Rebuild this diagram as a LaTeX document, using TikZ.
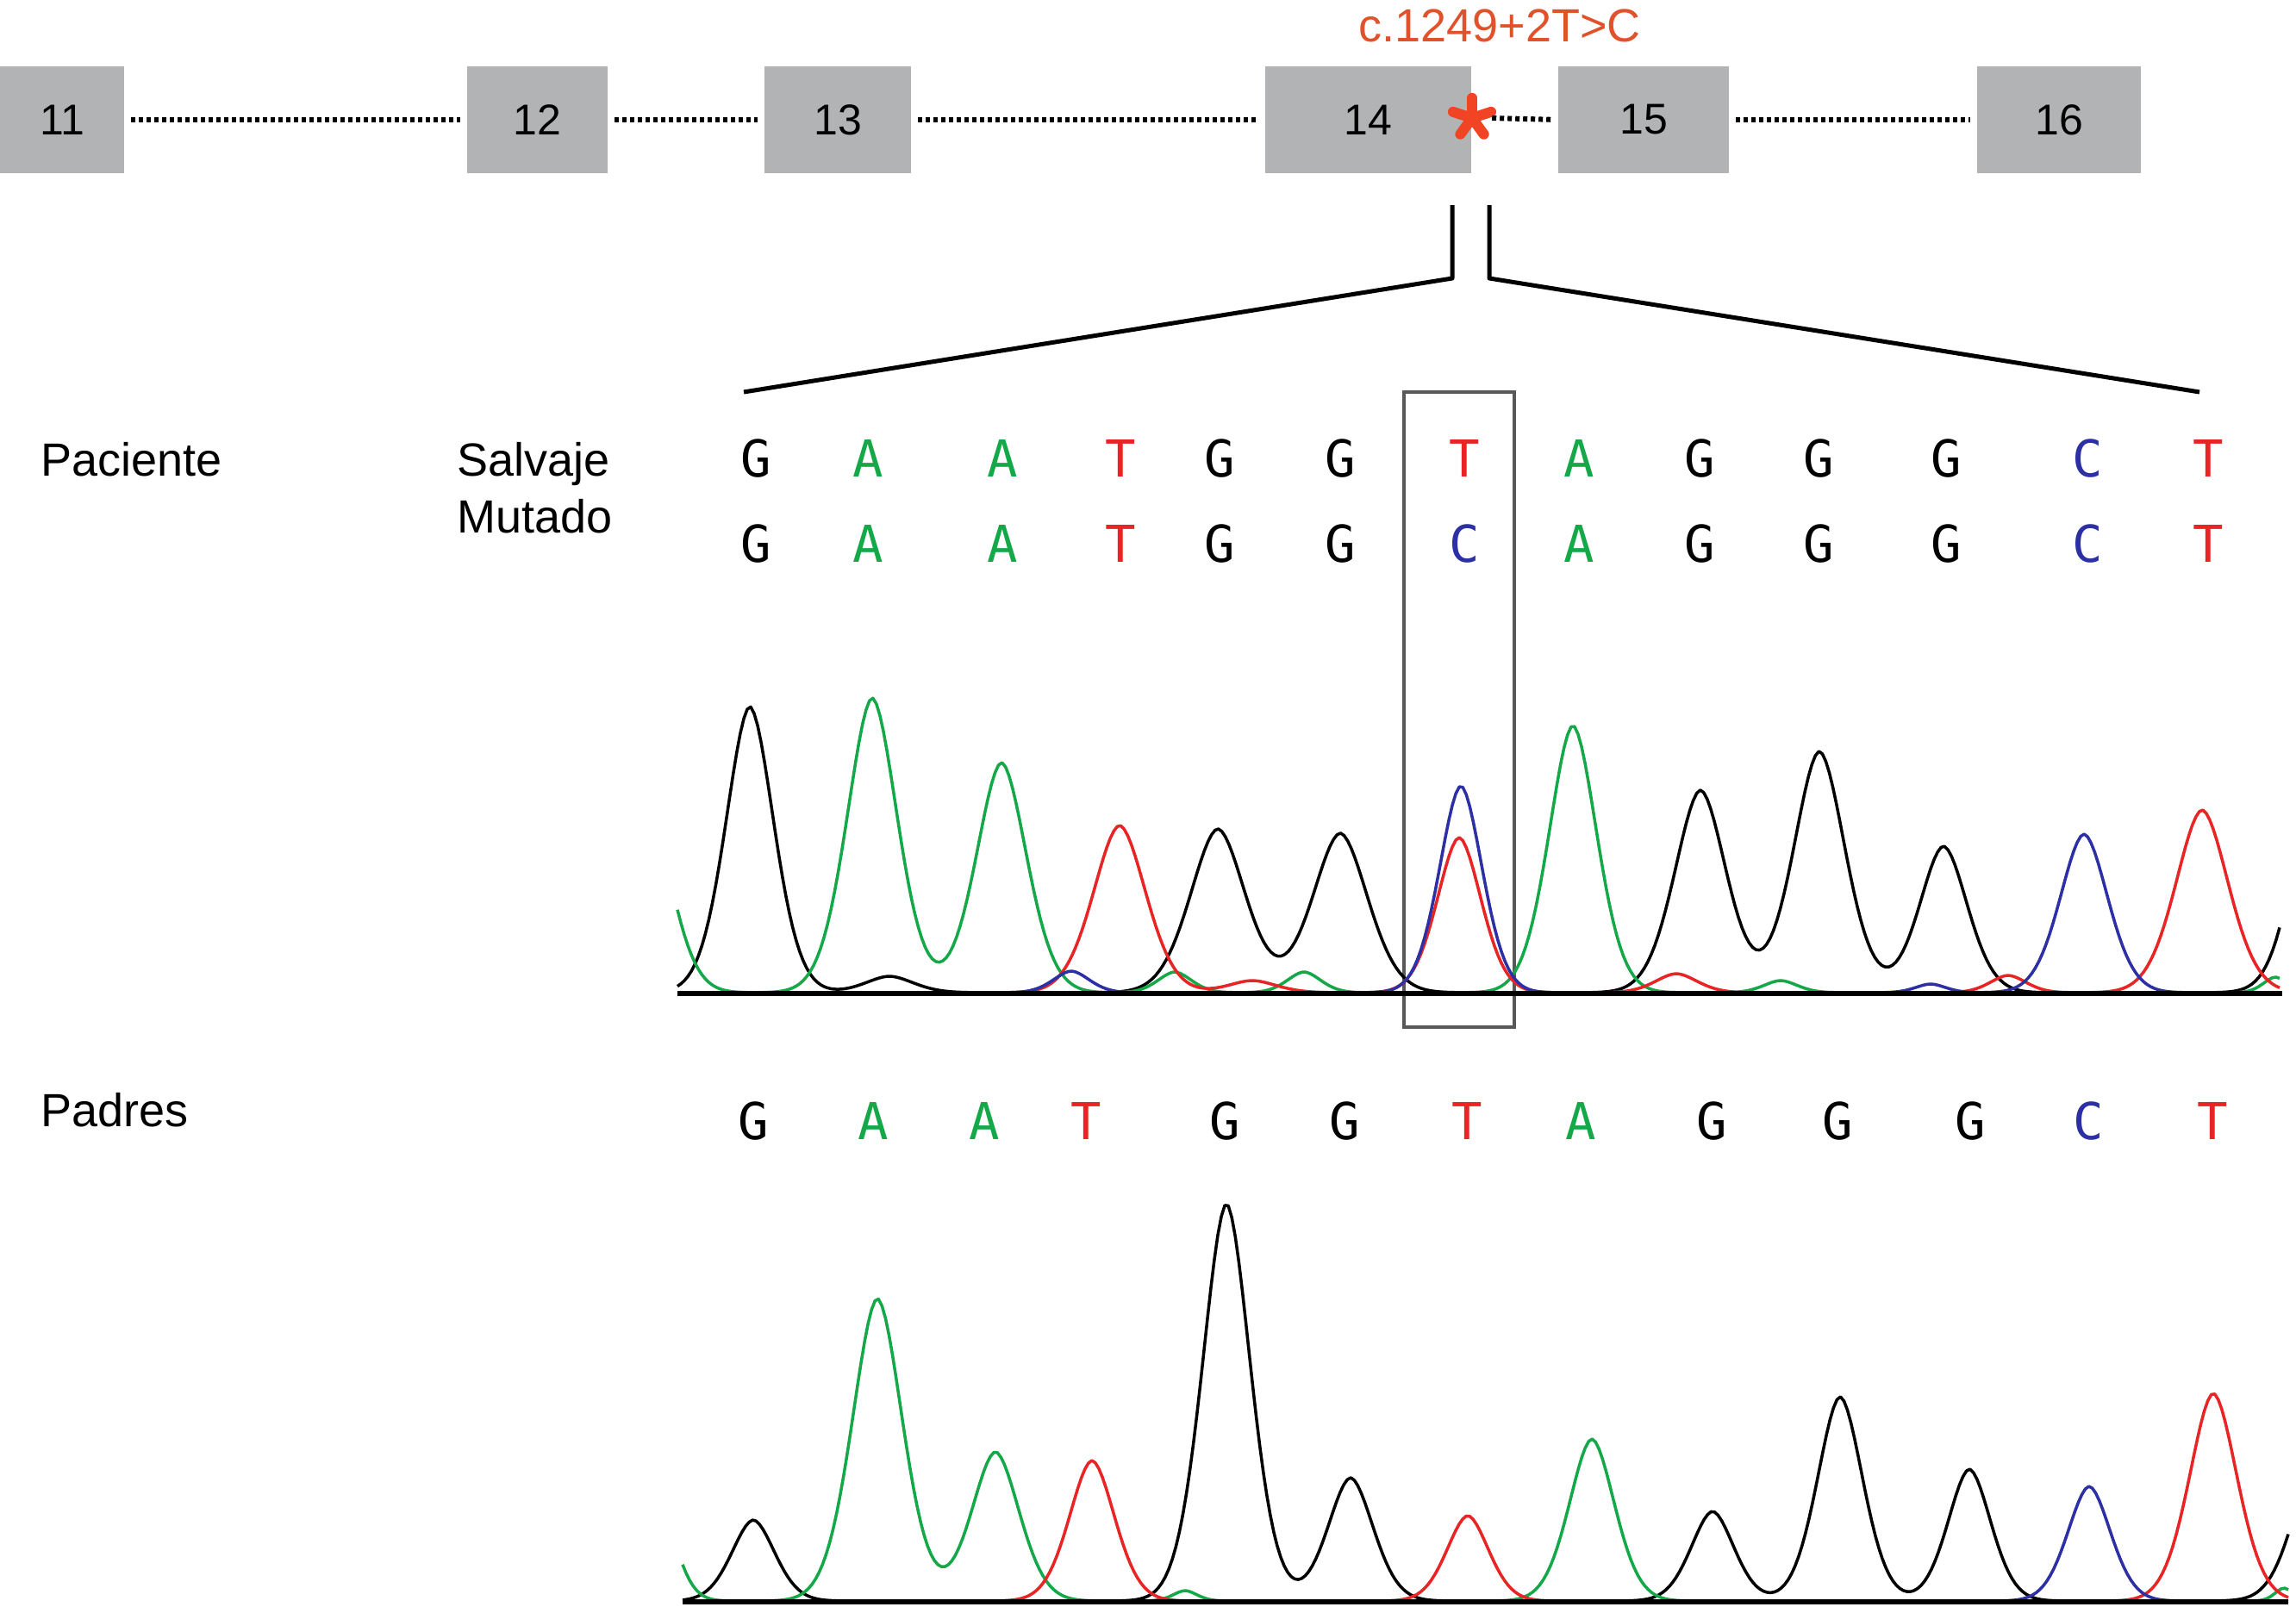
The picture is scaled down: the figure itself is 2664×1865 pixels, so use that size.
\documentclass[tikz,border=0pt]{standalone}
\usepackage{fontspec}
\setmainfont{Liberation Sans}
\newfontfamily\seqfont{DejaVu Sans Mono}
\definecolor{exongray}{RGB}{177,179,180}
\definecolor{mutred}{RGB}{224,82,44}
\definecolor{astred}{RGB}{240,68,36}
\definecolor{trgreen}{RGB}{20,168,72}
\definecolor{trred}{RGB}{232,36,36}
\definecolor{trblue}{RGB}{44,48,164}
\definecolor{frgray}{RGB}{88,88,88}
\begin{document}
\begin{tikzpicture}[x=1pt,y=-1pt,
  declare function={g(\x,\c,\h,\s)=\h*exp(-(min(4,abs((\x-\c)/\s)))^1.8);},
  exon/.style={fill=exongray, inner sep=0pt, minimum height=124pt,
    font=\fontsize{50pt}{56pt}\selectfont},
  intron/.style={line width=6pt, dash pattern=on 5pt off 4pt, shorten >=8pt, shorten <=8pt},
  lab/.style={inner sep=0pt, anchor=base west, font=\fontsize{54pt}{60pt}\selectfont},
  seqlet/.style={inner sep=0pt, anchor=base, font=\seqfont\fontsize{59pt}{64pt}\selectfont},
  trace/.style={line width=3.5pt, line join=round},
  bracket/.style={line width=5pt, line join=round},
  axisline/.style={line width=6pt},
]
\useasboundingbox (0,0) rectangle (2664,1865);

% exons
\node[exon, minimum width=144pt] (e11) at (72,139) {11};
\node[exon, minimum width=163pt] (e12) at (623.5,139) {12};
\node[exon, minimum width=170pt] (e13) at (972,139) {13};
\node[exon, minimum width=239pt] (e14) at (1587.5,139) {14};
\node[exon, minimum width=198pt] (e15) at (1907,139) {15};
\node[exon, minimum width=190pt] (e16) at (2389,139) {16};

% mutation marker
\node[circle, inner sep=0pt, minimum size=46pt] (mut) at (1708,137) {};
\foreach \a in {90,162,234,306,18}
  \draw[astred, line width=12pt, line cap=round] (mut.center) -- (mut.\a);
\node[inner sep=0pt, anchor=base, text=mutred, font=\fontsize{54pt}{60pt}\selectfont]
  (mutlab) at (1740,49) {c.1249+2T>C};

% introns
\draw[intron] (e11.east) -- (e12.west);
\draw[intron] (e12.east) -- (e13.west);
\draw[intron] (e13.east) -- (e14.west);
\draw[intron, shorten <=0pt] (mut.east) -- (e15.west);
\draw[intron] (e15.east) -- (e16.west);

% zoom bracket
\coordinate (bl) at (863,455);
\coordinate (blc) at (1685,323);
\coordinate (blt) at (1685,238);
\coordinate (brt) at (1728,238);
\coordinate (brc) at (1728,323);
\coordinate (br) at (2552,455);
\draw[bracket] (bl) -- (blc) -- (blt);
\draw[bracket] (brt) -- (brc) -- (br);

% labels
\node[lab] (pac) at (47,552) {Paciente};
\node[lab] (sal) at (530,552) {Salvaje};
\node[lab] (mutado) at (530,618) {Mutado};
\node[lab] (pad) at (47,1307) {Padres};

% sequences
\foreach \xx/\b/\c [count=\i] in {877/G/black,1007/A/trgreen,1163/A/trgreen,1300/T/trred,1415/G/black,1555/G/black,1699/T/trred,1832/A/trgreen,1972/G/black,2110/G/black,2258/G/black,2422/C/trblue,2562/T/trred}
  \node[seqlet, text=\c] (s\i) at (\xx,553) {\b};
\foreach \xx/\b/\c [count=\i] in {877/G/black,1007/A/trgreen,1163/A/trgreen,1300/T/trred,1415/G/black,1555/G/black,1699/C/trblue,1832/A/trgreen,1972/G/black,2110/G/black,2258/G/black,2422/C/trblue,2562/T/trred}
  \node[seqlet, text=\c] (m\i) at (\xx,652) {\b};
\foreach \xx/\b/\c [count=\i] in {874/G/black,1013/A/trgreen,1142/A/trgreen,1260/T/trred,1421/G/black,1560/G/black,1702/T/trred,1834/A/trgreen,1986/G/black,2132/G/black,2286/G/black,2423/C/trblue,2567/T/trred}
  \node[seqlet, text=\c] (p\i) at (\xx,1322) {\b};

% highlight frame
\node[draw=frgray, line width=4pt, inner sep=0pt, minimum width=128pt, minimum height=737pt] (hl) at (1693,823.5) {};

% patient chromatogram
\draw[trace, black] plot[domain=786:2645, samples=460] (\x, {1152 - g(\x,870,332,40) - g(\x,1032,19,40) - g(\x,1413,190,46) - g(\x,1555,185,46) - g(\x,1973,235,43) - g(\x,2111,280,43) - g(\x,2255,170,40) - g(\x,2690,260,40)});
\draw[trace, trgreen] plot[domain=786:2645, samples=460] (\x, {1152 - g(\x,750,220,40) - g(\x,1012,342,42) - g(\x,1162,267,42) - g(\x,1363,24,28) - g(\x,1513,24,28) - g(\x,1825,310,40) - g(\x,2066,14,28) - g(\x,2640,18,20)});
\draw[trace, trred] plot[domain=786:2645, samples=460] (\x, {1152 - g(\x,1299,194,44) - g(\x,1453,14,40) - g(\x,1693,180,37) - g(\x,1945,22,35) - g(\x,2330,20,30) - g(\x,2555,212,44)});
\draw[trace, trblue] plot[domain=786:2645, samples=460] (\x, {1152 - g(\x,1243,25,30) - g(\x,1695,240,36) - g(\x,2240,10,25) - g(\x,2418,184,40)});
\draw[axisline] (786,1153) -- (2648,1153);

% parents chromatogram
\draw[trace, black] plot[domain=792:2655, samples=460] (\x, {1858 - g(\x,874,94,36) - g(\x,1423,461,40) - g(\x,1567,143,38) - g(\x,1987,104,36) - g(\x,2135,237,38) - g(\x,2285,153,36) - g(\x,2690,170,40)});
\draw[trace, trgreen] plot[domain=792:2655, samples=460] (\x, {1858 - g(\x,760,130,30) - g(\x,1018,351,42) - g(\x,1155,173,40) - g(\x,1375,12,20) - g(\x,1847,188,38) - g(\x,2650,15,15)});
\draw[trace, trred] plot[domain=792:2655, samples=460] (\x, {1858 - g(\x,1267,163,38) - g(\x,1703,99,35) - g(\x,2568,241,40)});
\draw[trace, trblue] plot[domain=792:2655, samples=460] (\x, {1858 - g(\x,2424,133,36)});
\draw[axisline] (792,1859) -- (2655,1859);
\end{tikzpicture}
\end{document}
